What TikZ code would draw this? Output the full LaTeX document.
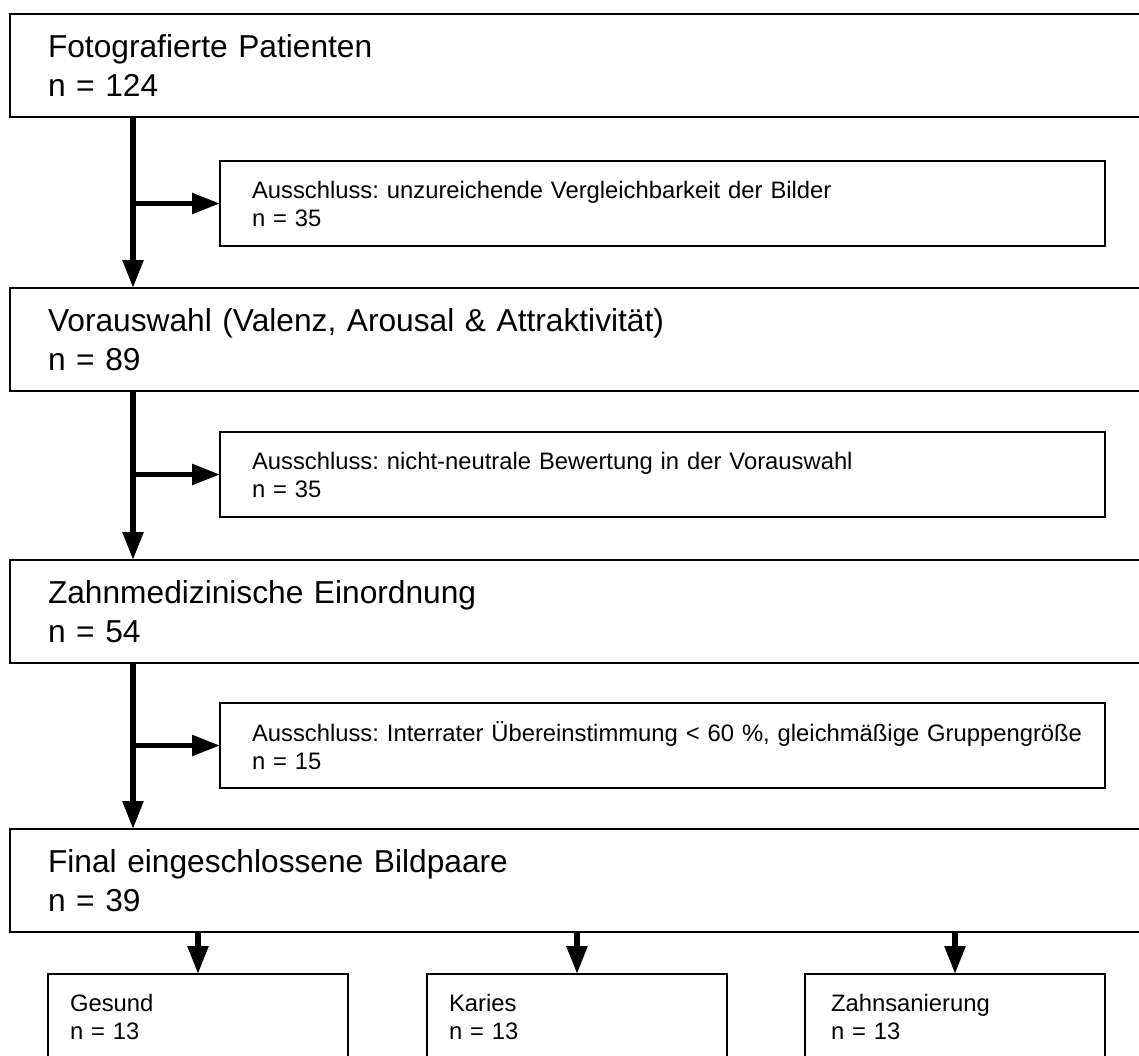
\documentclass[tikz,border=0pt]{standalone}
\usepackage{fontspec}
\setmainfont{Liberation Sans}
\usetikzlibrary{arrows.meta}
\begin{document}
\frenchspacing
\begin{tikzpicture}[x=0.5pt,y=-0.5pt,
  mainbox/.style={draw, line width=1.25pt, outer sep=0pt, anchor=north west,
    minimum width=570pt, minimum height=51.5pt, inner xsep=19pt, inner ysep=0pt,
    text width=532pt, align=left, font=\frenchspacing\fontsize{15.85pt}{19.5pt}\selectfont},
  exclbox/.style={draw, line width=1.2pt, outer sep=0pt, anchor=north west,
    minimum width=442.5pt, minimum height=42.5pt, inner xsep=16pt, inner ysep=0pt,
    text width=410.5pt, align=left, font=\frenchspacing\fontsize{11.9pt}{14pt}\selectfont},
  groupbox/.style={draw, line width=1.2pt, outer sep=0pt, anchor=north west,
    minimum width=150pt, minimum height=42.5pt, inner ysep=0pt,
    align=left, font=\frenchspacing\fontsize{11.9pt}{14pt}\selectfont},
  flow/.style={line width=2.75pt, -{Triangle[length=14pt,width=10pt]}},
]
\useasboundingbox (0,0) rectangle (1139,1055);

\node[mainbox] (b1) at (10,14)  {Fotografierte Patienten\\n = 124};
\node[exclbox] (e1) at (220,161) {Ausschluss: unzureichende Vergleichbarkeit der Bilder\\n = 35};
\node[mainbox] (b2) at (10,288) {Vorauswahl (Valenz, Arousal \& Attraktivität)\\n = 89};
\node[exclbox] (e2) at (220,432) {Ausschluss: nicht-neutrale Bewertung in der Vorauswahl\\n = 35};
\node[mainbox] (b3) at (10,560) {Zahnmedizinische Einordnung\\n = 54};
\node[exclbox] (e3) at (220,703) {\mbox{Ausschluss: Interrater Übereinstimmung < 60 \%, gleichmäßige Gruppengröße}\\n = 15};
\node[mainbox] (b4) at (10,829) {Final eingeschlossene Bildpaare\\n = 39};

\node[groupbox, inner xsep=11pt, text width=128pt] (g1) at (48,974) {Gesund\\n = 13};
\node[groupbox, inner xsep=11pt, text width=128pt] (g2) at (427,974) {Karies\\n = 13};
\node[groupbox, inner xsep=13pt, text width=124pt] (g3) at (805,974) {Zahnsanierung\\n = 13};

\coordinate (ax) at (133,0);

\draw[flow] (b1.south -| ax) -- (b2.north -| ax);
\draw[flow] (e1.west -| ax) -- (e1.west);
\draw[flow] (b2.south -| ax) -- (b3.north -| ax);
\draw[flow] (e2.west -| ax) -- (e2.west);
\draw[flow] (b3.south -| ax) -- (b4.north -| ax);
\draw[flow] (e3.west -| ax) -- (e3.west);

\draw[flow] (b4.south -| g1.north) -- (g1.north);
\draw[flow] (b4.south -| g2.north) -- (g2.north);
\draw[flow] (b4.south -| g3.north) -- (g3.north);
\end{tikzpicture}
\end{document}
